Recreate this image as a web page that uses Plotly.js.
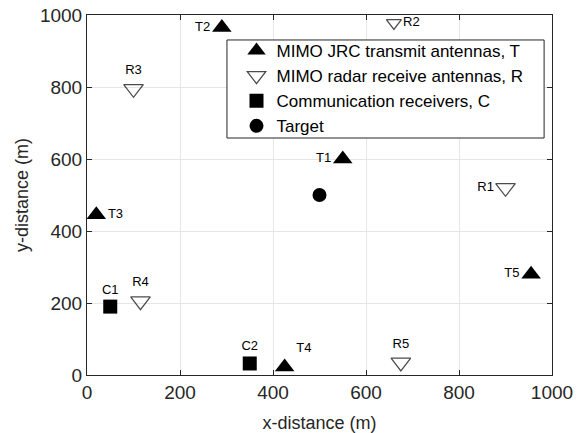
<!DOCTYPE html>
<html><head><meta charset="utf-8">
<script src="https://cdn.plot.ly/plotly-3.0.1.min.js"></script>
<style>html,body{margin:0;padding:0;background:#fff}#plot{width:587px;height:433px}</style>
</head><body><div id="plot"></div>
<script>
// Data
const txX = [550, 290, 20, 425, 955];
const txY = [600, 965, 445, 22, 280];
const txLabels = ['T1', 'T2', 'T3', 'T4', 'T5'];
const txPos = ['middle left', 'middle left', 'middle right', 'top right', 'middle left'];

const rxX = [900, 660, 100, 115, 675];
const rxY = [520, 978, 795, 205, 35];
const rxLabels = ['R1', 'R2', 'R3', 'R4', 'R5'];
const rxPos = ['middle left', 'middle right', 'top center', 'top center', 'top center'];

const cX = [50, 350];
const cY = [190, 32];
const cLabels = ['C1', 'C2'];
const cPos = ['top center', 'top center'];

const tgX = [500];
const tgY = [500];

const names = ['MIMO JRC transmit antennas, T', 'MIMO radar receive antennas, R', 'Communication receivers, C', 'Target'];

const FONT = 'Liberation Sans, Arial, sans-serif';
const lblFont = {family: FONT, size: 13, color: '#000'};
const traces = [
  {x: txX, y: txY, text: txLabels, textposition: txPos, mode: 'markers+text', type: 'scatter', name: names[0],
   marker: {symbol: 'triangle-up', size: 17, color: '#000'}, textfont: lblFont, cliponaxis: false},
  {x: rxX, y: rxY, text: rxLabels, textposition: rxPos, mode: 'markers+text', type: 'scatter', name: names[1],
   marker: {symbol: 'triangle-down-open', size: [17, 13, 17, 17, 17], color: '#000', line: {width: 1.3, color: '#000'}}, textfont: lblFont, cliponaxis: false},
  {x: cX, y: cY, text: cLabels, textposition: cPos, mode: 'markers+text', type: 'scatter', name: names[2],
   marker: {symbol: 'square', size: 14, color: '#000'}, textfont: lblFont, cliponaxis: false},
  {x: tgX, y: tgY, mode: 'markers', type: 'scatter', name: names[3],
   marker: {symbol: 'circle', size: 14, color: '#000'}, cliponaxis: false}
];

const axCommon = {
  range: [0, 1000], dtick: 200, tick0: 0, showgrid: true, gridcolor: '#e6e6e6', gridwidth: 1,
  zeroline: false, showline: true, linecolor: '#262626', linewidth: 1, mirror: 'ticks',
  ticks: 'inside', ticklen: 5, tickcolor: '#262626',
  tickfont: {family: FONT, size: 19, color: '#262626'}
};

const layout = {
  width: 587, height: 433,
  margin: {l: 87, r: 35, t: 15, b: 58},
  paper_bgcolor: '#fff', plot_bgcolor: '#fff',
  showlegend: true,
  font: {family: FONT, color: '#262626'},
  xaxis: Object.assign({}, axCommon, {title: {text: 'x-distance (m)', font: {size: 18, color: '#262626'}, standoff: 14}}),
  yaxis: Object.assign({}, axCommon, {title: {text: 'y-distance (m)', font: {size: 18, color: '#262626'}, standoff: 6}}),
  legend: {x: 0.3215, y: 0.95, xanchor: 'left', yanchor: 'top', bgcolor: 'rgba(0,0,0,0)', borderwidth: 0,
           font: {size: 17, color: '#000'}, tracegroupgap: 0, itemsizing: 'trace'},
  shapes: [{type: 'rect', xref: 'paper', yref: 'paper', x0: 0.301, x1: 0.983, y0: 0.6583, y1: 0.9306,
            fillcolor: '#fff', line: {color: '#262626', width: 1}, layer: 'above'}]
};

Plotly.newPlot('plot', traces, layout, {displayModeBar: false, staticPlot: true});
</script></body></html>
